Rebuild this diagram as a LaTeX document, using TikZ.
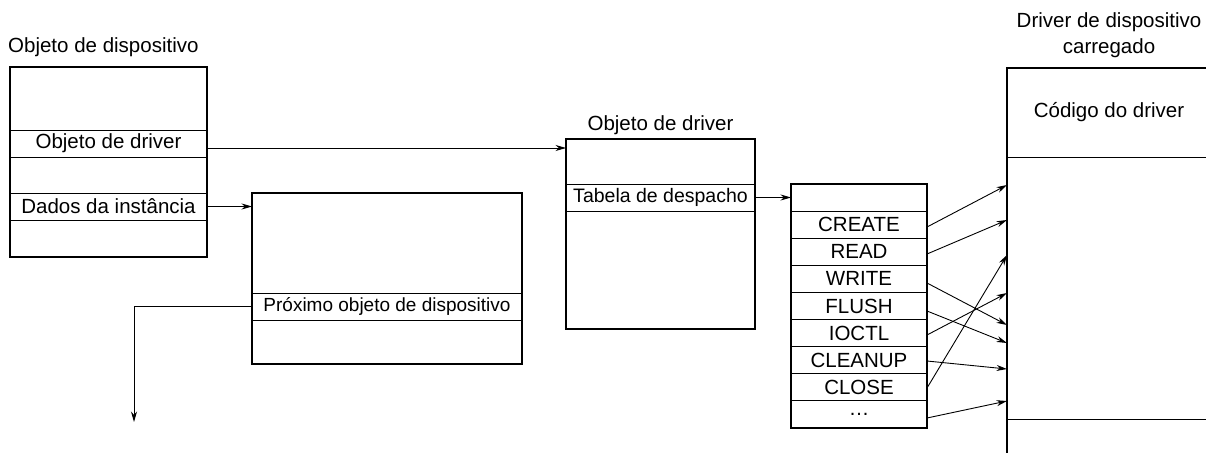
\documentclass[tikz,border=0pt]{standalone}
\usepackage{fontspec}
\setmainfont{Liberation Sans}
\usepackage{tikz}
\usetikzlibrary{arrows.meta,positioning,calc}

\begin{document}
\begin{tikzpicture}[x=1pt, y=-1pt,
    font=\fontsize{20.5}{26}\selectfont,
    objbox/.style={draw, line width=2pt, anchor=north west, inner sep=0pt, outer sep=0pt},
    field/.style={draw, line width=0.9pt, anchor=north west, inner sep=0pt, outer sep=0pt, minimum height=27pt},
    ptr/.style={-{Stealth[length=10.5pt,width=6pt]}, line width=0.9pt}]
  \clip (0,0) rectangle (1206,452);

  \node[objbox, minimum width=197pt, minimum height=190pt] (devobj) at (10,67) {};
  \node[field, minimum width=197pt] (devdrv) at (10,130) {Objeto de driver};
  \node[field, minimum width=197pt] (devinst) at (10,193) {Dados da instância};
  \node[above right=10pt and -2pt of devobj.north west, inner sep=0pt] (devlbl) {Objeto de dispositivo};

  \node[objbox, minimum width=270pt, minimum height=171pt] (instobj) at (252,193) {};
  \node[field, minimum width=270pt, font=\fontsize{19}{24}\selectfont] (nextrow) at (252,293) {Próximo objeto de dispositivo};

  \node[objbox, minimum width=189pt, minimum height=190pt] (drvobj) at (566,139) {};
  \node[field, minimum width=189pt, font=\fontsize{19.5}{24}\selectfont] (tabrow) at (566,184) {Tabela de despacho};
  \node[above=4pt of drvobj, inner sep=0pt] (drvlbl) {Objeto de driver};

  \node[objbox, minimum width=136pt, minimum height=244pt] (table) at (791,184) {};
  \foreach \op [count=\i from 0] in {{},CREATE,READ,WRITE,FLUSH,IOCTL,CLEANUP,CLOSE,\ldots}
    \node[field, minimum width=136pt, minimum height=27.1pt] (r\i) at (791,184+27.1*\i) {\op};

  \node[objbox, minimum width=204pt, minimum height=400pt] (drvmod) at (1007,68) {};
  \node[field, minimum width=204pt, minimum height=89pt] (drvcode) at (1007,68) {Código do driver};
  \node[field, minimum width=204pt, minimum height=262pt] (drvbody) at (1007,157) {};
  \node[above=10pt of drvmod.north, inner sep=0pt, align=center] (modlbl) {Driver de dispositivo\\carregado};

  \coordinate (drvptr) at ([yshift=-4.5pt]devdrv.east);
  \draw[ptr] (drvptr) -- (drvptr -| drvobj.west);
  \draw[ptr] (devinst.east) -- (devinst.east -| instobj.west);
  \draw[ptr] (tabrow.east) -- (tabrow.east -| table.west);
  \coordinate (nextend) at (134,422);
  \draw[ptr] (nextrow.west) -| (nextend);

  \foreach \i/\src/\dst in {1/227/185, 2/254/220, 3/283/325, 4/311/343, 5/335/293, 6/361/369, 7/388/255, 8/418/401}
    \draw[ptr] (r\i.east |- 0,\src) -- (drvmod.west |- 0,\dst);
\end{tikzpicture}
\end{document}
